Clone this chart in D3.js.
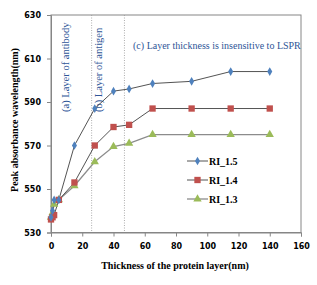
<!DOCTYPE html>
<html>
<head>
<meta charset="utf-8">
<script src="https://cdn.jsdelivr.net/npm/d3@7"></script>
<style>
  body { margin: 0; background: #fff; }
  .tick text { font-family: "DejaVu Sans", Verdana, sans-serif; font-weight: bold; font-size: 8px; fill: #000; }
  .serif { font-family: "Liberation Serif", "Times New Roman", serif; }
</style>
</head>
<body>
<svg width="317" height="285"></svg>
<script>
var thickness = [0, 1, 2, 5, 15, 28, 40, 50, 65, 90, 115, 140];
var ri15 = [537, 540, 545, 545, 570, 587, 595, 596, 598.5, 599.5, 604, 604];
var ri14 = [536, 537, 538, 545, 553, 570, 578.5, 579.5, 587, 587, 587, 587];
var ri13 = [537, 539, 543, 545, 551.5, 562.5, 569.5, 571, 575, 575, 575, 575];
var seriesNames = ["RI_1.5", "RI_1.4", "RI_1.3"];
var xTicks = [0, 20, 40, 60, 80, 100, 120, 140, 160];
var yTicks = [530, 550, 570, 590, 610, 630];
var layerBounds = [26, 47];

var svg = d3.select("svg"),
    margin = {top: 15, right: 16, bottom: 52.5, left: 51},
    width = +svg.attr("width") - margin.left - margin.right,
    height = +svg.attr("height") - margin.top - margin.bottom;

var x = d3.scaleLinear().domain([0, 160]).range([0, width]),
    y = d3.scaleLinear().domain([530, 630]).range([height, 0]);

var g = svg.append("g")
    .attr("transform", "translate(" + margin.left + "," + margin.top + ")");

// plot border
g.append("rect")
    .attr("width", width).attr("height", height)
    .attr("fill", "none").attr("stroke", "#868686");

g.append("g")
    .attr("transform", "translate(0," + height + ")")
    .call(d3.axisBottom(x).tickValues(xTicks).tickSize(4).tickPadding(7))
    .call(function(a) { a.select(".domain").attr("stroke", "#868686"); a.selectAll("line").attr("stroke", "#868686"); });

g.append("g")
    .call(d3.axisLeft(y).tickValues(yTicks).tickSize(4).tickPadding(6))
    .call(function(a) { a.select(".domain").attr("stroke", "#868686"); a.selectAll("line").attr("stroke", "#868686"); });

// dotted layer boundaries
g.selectAll(".bound")
  .data(layerBounds)
  .enter().append("line")
    .attr("x1", function(d) { return x(d); })
    .attr("x2", function(d) { return x(d); })
    .attr("y1", 0).attr("y2", height)
    .attr("stroke", "#999").attr("stroke-width", 0.8)
    .attr("stroke-dasharray", "1,1.5");

// annotations
var blue = "#2E5597";
g.append("text").attr("class", "serif")
    .attr("transform", "translate(" + x(9) + ",97) rotate(-90)")
    .attr("dy", "0.35em").attr("font-size", 10.5).attr("fill", blue)
    .text("(a) Layer of antibody");
g.append("text").attr("class", "serif")
    .attr("transform", "translate(" + x(30.5) + ",97) rotate(-90)")
    .attr("dy", "0.35em").attr("font-size", 10.5).attr("fill", blue)
    .text("(b) Layer of antigen");
g.append("text").attr("class", "serif")
    .attr("x", x(52.5)).attr("y", 34)
    .attr("font-size", 10).attr("fill", blue)
    .text("(c) Layer thickness is insensitive to LSPR");

var series = [
  {name: seriesNames[0], values: ri15, color: "#4F81BD", line: "#404040", shape: d3.symbolDiamond, size: 22},
  {name: seriesNames[1], values: ri14, color: "#C0504D", line: "#404040", shape: d3.symbolSquare, size: 40},
  {name: seriesNames[2], values: ri13, color: "#9BBB59", line: "#8C8C8C", shape: d3.symbolTriangle, size: 30}
];

var line = d3.line()
    .x(function(d, i) { return x(thickness[i]); })
    .y(function(d) { return y(d); });

series.slice().reverse().forEach(function(s) {
  g.append("path")
      .datum(s.values)
      .attr("fill", "none")
      .attr("stroke", s.line)
      .attr("stroke-width", s.name === "RI_1.3" ? 1.3 : 0.9)
      .attr("d", line);
});

series.slice().reverse().forEach(function(s) {
  g.selectAll(null)
    .data(s.values)
    .enter().append("path")
      .attr("transform", function(d, i) { return "translate(" + x(thickness[i]) + "," + y(d) + ")"; })
      .attr("d", d3.symbol().type(s.shape).size(s.size))
      .attr("fill", s.color);
});

// legend
var legend = g.selectAll(".legend")
  .data(series)
  .enter().append("g")
    .attr("transform", function(d, i) { return "translate(" + (187 - margin.left) + "," + (161 - margin.top + i * 19) + ")"; });

legend.append("line")
    .attr("x1", 0).attr("x2", 21)
    .attr("stroke", function(d) { return d.line; })
    .attr("stroke-width", function(d) { return d.name === "RI_1.3" ? 1.3 : 0.9; });
legend.append("path")
    .attr("transform", "translate(10.5,0)")
    .attr("d", function(d) { return d3.symbol().type(d.shape).size(d.size)(); })
    .attr("fill", function(d) { return d.color; });
legend.append("text").attr("class", "serif")
    .attr("x", 22).attr("dy", "0.35em")
    .attr("font-size", 10).attr("font-weight", "bold")
    .text(function(d) { return d.name; });

// axis titles
svg.append("text").attr("class", "serif")
    .attr("x", margin.left + width / 2 - 1).attr("y", 269)
    .attr("text-anchor", "middle")
    .attr("font-size", 10).attr("font-weight", "bold")
    .text("Thickness of the protein layer(nm)");

svg.append("text").attr("class", "serif")
    .attr("transform", "translate(14,120) rotate(-90)")
    .attr("text-anchor", "middle").attr("dy", "0.35em")
    .attr("font-size", 10).attr("font-weight", "bold")
    .text("Peak absorbance wavelength(nm)");
</script>
</body>
</html>
